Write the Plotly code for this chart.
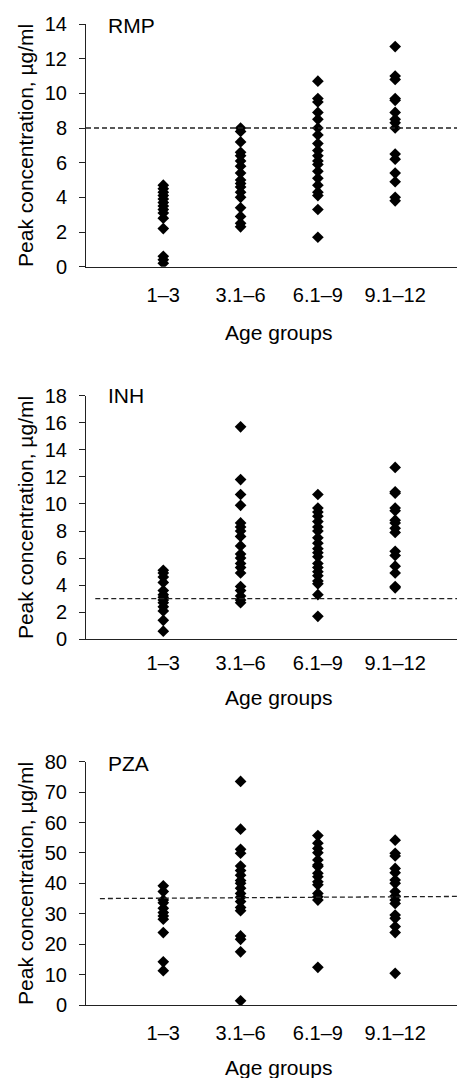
import plotly.graph_objects as go

age_groups = ["1–3", "3.1–6", "6.1–9", "9.1–12"]

rmp_1_3 = [4.7, 4.5, 4.3, 4.1, 3.9, 3.7, 3.5, 3.3, 3.1, 2.8, 2.2, 0.6, 0.4, 0.2]
rmp_3_6 = [8.0, 7.8, 7.2, 6.6, 6.4, 6.1, 5.8, 5.4, 5.0, 4.8, 4.6, 4.3, 4.0, 3.4, 2.9, 2.5, 2.3]
rmp_6_9 = [10.7, 9.7, 9.5, 8.9, 8.5, 8.0, 7.6, 7.1, 6.7, 6.4, 6.1, 5.9, 5.5, 5.1, 4.7, 4.3, 4.1, 3.3, 1.7]
rmp_9_12 = [12.7, 11.0, 10.8, 9.7, 9.6, 8.9, 8.5, 8.3, 8.0, 6.5, 6.2, 5.4, 4.9, 4.0, 3.8]

inh_1_3 = [5.1, 4.9, 4.6, 4.2, 3.6, 3.3, 3.1, 2.9, 2.7, 2.4, 2.1, 1.4, 0.6]
inh_3_6 = [15.7, 11.8, 10.7, 9.9, 8.6, 8.3, 8.0, 7.6, 6.9, 6.3, 6.0, 5.6, 5.3, 4.9, 3.9, 3.6, 3.2, 2.9, 2.7]
inh_6_9 = [10.7, 9.7, 9.4, 9.1, 8.7, 8.3, 8.0, 7.5, 7.1, 6.7, 6.4, 6.1, 5.6, 5.3, 5.0, 4.7, 4.3, 4.1, 3.3, 1.7]
inh_9_12 = [12.7, 10.9, 10.8, 9.7, 9.5, 8.8, 8.6, 8.2, 7.9, 6.5, 6.2, 5.4, 4.9, 3.9, 3.8]

pza_1_3 = [39.2, 37.3, 34.5, 33.6, 31.8, 30.4, 29.3, 28.2, 23.8, 14.2, 11.3]
pza_3_6 = [73.5, 57.8, 51.2, 49.9, 45.7, 44.2, 42.7, 40.9, 40.0, 38.4, 36.7, 35.4, 34.0, 32.1, 31.0, 22.7, 21.6, 17.5, 1.4]
pza_6_9 = [55.7, 53.2, 51.5, 50.1, 47.7, 46.0, 45.5, 43.3, 42.2, 40.5, 39.5, 36.7, 35.6, 34.5, 12.4]
pza_9_12 = [54.2, 49.9, 49.0, 44.9, 43.5, 41.1, 40.0, 37.3, 35.8, 34.5, 33.4, 29.6, 28.5, 25.8, 23.8, 10.4]

drug_names = ["RMP", "INH", "PZA"]
thresholds_left = [8.0, 3.0, 35.0]
thresholds_right = [8.0, 3.0, 35.7]
y_max = [14, 18, 80]
y_dtick = [2, 2, 10]

panels = [
    [rmp_1_3, rmp_3_6, rmp_6_9, rmp_9_12],
    [inh_1_3, inh_3_6, inh_6_9, inh_9_12],
    [pza_1_3, pza_3_6, pza_6_9, pza_9_12],
]

W, H = 457, 1078
FONT = "Liberation Sans, Arial, sans-serif"

def py(p):
    return 1 - p / H

domains = [(py(266.7), py(24)), (py(639.3), py(395.7)), (py(1005), py(761.7))]
x_label_standoff = [10, 6, 10]
title_y = [25, 395.5, 763]
agegroup_y = [332, 697, 1067]
line_start = [0.0, 0.12, 0.18]
x_max = 4.8

fig = go.Figure()
layout = dict(
    width=W, height=H,
    margin=dict(l=86, r=0, t=0, b=0, autoexpand=False),
    paper_bgcolor="white", plot_bgcolor="white",
    showlegend=False,
    font=dict(family=FONT, size=20, color="black"),
    annotations=[], shapes=[],
)

for i, groups in enumerate(panels):
    n = "" if i == 0 else str(i + 1)
    xa, ya = "x" + n, "y" + n
    for gi, vals in enumerate(groups):
        fig.add_trace(go.Scatter(
            x=[gi + 1] * len(vals), y=vals, xaxis=xa, yaxis=ya,
            mode="markers",
            marker=dict(symbol="diamond", size=9, color="black"),
            hoverinfo="y",
        ))
    layout["xaxis" + n] = dict(
        domain=[0, 1], anchor=ya, range=[0, x_max], automargin=False,
        tickmode="array", tickvals=[1, 2, 3, 4], ticktext=age_groups,
        ticks="", showgrid=False, zeroline=False,
        showline=True, linecolor="#222", linewidth=1,
        tickfont=dict(size=20), ticklabelstandoff=x_label_standoff[i],
    )
    layout["yaxis" + n] = dict(
        domain=list(domains[i]), anchor=xa, range=[0, y_max[i]], dtick=y_dtick[i],
        automargin=False,
        ticks="outside", ticklen=6, tickcolor="#222", tickwidth=1,
        showgrid=False, zeroline=False,
        showline=True, linecolor="#222", linewidth=1,
        tickfont=dict(size=20), ticklabelstandoff=8,
        title=dict(text="Peak concentration, µg/ml", font=dict(size=21), standoff=5),
    )
    layout["shapes"].append(dict(
        type="line", xref=xa, yref=ya,
        x0=line_start[i], x1=x_max, y0=thresholds_left[i], y1=thresholds_right[i],
        line=dict(color="#222", width=1.3, dash="5px,3px"),
    ))
    layout["annotations"].append(dict(
        text=drug_names[i], xref="paper", yref="paper",
        x=(106 - 86) / 371, y=py(title_y[i]), xanchor="left", yanchor="middle",
        showarrow=False, font=dict(size=21),
    ))
    layout["annotations"].append(dict(
        text="Age groups", xref="paper", yref="paper",
        x=(278 - 86) / 371, y=py(agegroup_y[i]), xanchor="center", yanchor="middle",
        showarrow=False, font=dict(size=21),
    ))

fig.update_layout(**layout)
fig.write_html(
    "out.html",
    config={"displayModeBar": False},
    post_script="document.body.style.margin='0';document.documentElement.style.overflow='hidden';",
)
